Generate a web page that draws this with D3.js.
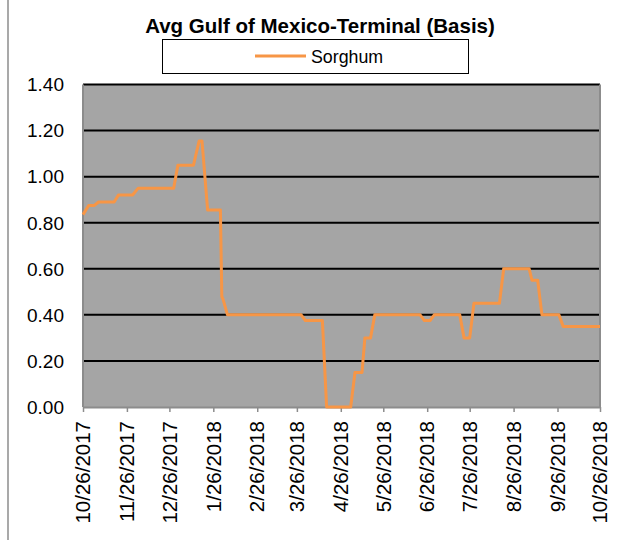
<!DOCTYPE html>
<html>
<head>
<meta charset="utf-8">
<script src="https://cdn.jsdelivr.net/npm/d3@7"></script>
<style>
  html, body { margin: 0; padding: 0; background: #fff; }
  svg { display: block; font-family: "Liberation Sans", Arial, sans-serif; }
</style>
</head>
<body>
<svg id="chart"></svg>
<script>
// sorghum basis, breakpoints
const dates = [
  '2017-10-26', '2017-10-30', '2017-11-03', '2017-11-06', '2017-11-17', '2017-11-20',
  '2017-11-30', '2017-12-04', '2017-12-29', '2018-01-01', '2018-01-12', '2018-01-16',
  '2018-01-18', '2018-01-22', '2018-01-31', '2018-02-01', '2018-02-02', '2018-02-05',
  '2018-03-29', '2018-04-01', '2018-04-13', '2018-04-16', '2018-05-03', '2018-05-06',
  '2018-05-11', '2018-05-13', '2018-05-17', '2018-05-20', '2018-06-21', '2018-06-24',
  '2018-06-28', '2018-07-01', '2018-07-19', '2018-07-22', '2018-07-26', '2018-07-29',
  '2018-08-16', '2018-08-19', '2018-09-06', '2018-09-08', '2018-09-12', '2018-09-15',
  '2018-09-27', '2018-09-30', '2018-10-26'
];
const sorghum = [
  0.835, 0.875, 0.875, 0.89, 0.89, 0.92,
  0.92, 0.95, 0.95, 1.05, 1.05, 1.155,
  1.155, 0.855, 0.855, 0.48, 0.465, 0.40,
  0.40, 0.375, 0.375, 0, 0, 0.15,
  0.15, 0.30, 0.30, 0.40, 0.40, 0.375,
  0.375, 0.40, 0.40, 0.30, 0.30, 0.45,
  0.45, 0.60, 0.60, 0.55, 0.55, 0.40,
  0.40, 0.35, 0.35
];
const yTicks = [0, 0.2, 0.4, 0.6, 0.8, 1.0, 1.2, 1.4];
const xTicks = [
  '2017-10-26', '2017-11-26', '2017-12-26', '2018-01-26', '2018-02-26', '2018-03-26',
  '2018-04-26', '2018-05-26', '2018-06-26', '2018-07-26', '2018-08-26', '2018-09-26',
  '2018-10-26'
];
const title = 'Avg Gulf of Mexico-Terminal (Basis)';
const seriesName = 'Sorghum';

const width = 624;
const height = 540;
const plot = { left: 83, right: 600, top: 84.5, bottom: 407 };
const lineColor = '#F79646';

const parse = d3.timeParse('%Y-%m-%d');
const fmt = d3.timeFormat('%-m/%-d/%Y');

const data = dates.map((d, i) => ({ date: parse(d), value: sorghum[i] }));

const svg = d3.select('#chart')
  .attr('width', width)
  .attr('height', height);

// outer frame, only the left edge shows
svg.append('line')
  .attr('x1', 8).attr('x2', 8)
  .attr('y1', 0).attr('y2', height)
  .attr('stroke', '#8c8c8c')
  .attr('stroke-width', 1.5);

const xScale = d3.scaleTime()
  .domain([parse('2017-10-26'), parse('2018-10-26')])
  .range([plot.left, plot.right]);

const yScale = d3.scaleLinear()
  .domain([0, 1.4])
  .range([plot.bottom, plot.top]);

// plot area
svg.append('rect')
  .attr('x', plot.left)
  .attr('y', plot.top)
  .attr('width', plot.right - plot.left)
  .attr('height', plot.bottom - plot.top)
  .attr('fill', '#a5a5a5');

// gridlines
svg.selectAll('.grid')
  .data(yTicks.filter(v => v > 0))
  .enter()
  .append('line')
  .attr('class', 'grid')
  .attr('x1', plot.left)
  .attr('x2', plot.right)
  .attr('y1', d => yScale(d))
  .attr('y2', d => yScale(d))
  .attr('stroke', '#000')
  .attr('stroke-width', 2);

// left and right borders of plot area
svg.append('line')
  .attr('x1', plot.left).attr('x2', plot.left)
  .attr('y1', plot.top).attr('y2', plot.bottom)
  .attr('stroke', '#8c8c8c').attr('stroke-width', 2);
svg.append('line')
  .attr('x1', plot.right).attr('x2', plot.right)
  .attr('y1', plot.top).attr('y2', plot.bottom)
  .attr('stroke', '#8c8c8c').attr('stroke-width', 2);

// x axis
const xAxis = svg.append('g')
  .attr('transform', `translate(0, ${plot.bottom})`)
  .call(d3.axisBottom(xScale)
    .tickValues(xTicks.map(parse))
    .tickFormat(fmt)
    .tickSize(5)
    .tickSizeOuter(0));

xAxis.select('.domain')
  .attr('stroke', '#8c8c8c')
  .attr('stroke-width', 2);
xAxis.selectAll('.tick line')
  .attr('stroke', '#8c8c8c')
  .attr('stroke-width', 1.5);
xAxis.selectAll('.tick text')
  .attr('font-family', '"Liberation Sans", Arial, sans-serif')
  .attr('font-size', 20.5)
  .attr('fill', '#000')
  .attr('transform', 'rotate(-90)')
  .attr('text-anchor', 'end')
  .attr('x', -14)
  .attr('y', 0)
  .attr('dy', '0.33em');

// y axis labels
svg.selectAll('.ylabel')
  .data(yTicks)
  .enter()
  .append('text')
  .attr('class', 'ylabel')
  .attr('x', 64)
  .attr('y', d => yScale(d))
  .attr('dy', '0.36em')
  .attr('text-anchor', 'end')
  .attr('font-size', 19)
  .attr('fill', '#000')
  .text(d => d.toFixed(2));

// series line
const line = d3.line()
  .x(d => xScale(d.date))
  .y(d => yScale(d.value));

svg.append('path')
  .datum(data)
  .attr('d', line)
  .attr('fill', 'none')
  .attr('stroke', lineColor)
  .attr('stroke-width', 3)
  .attr('stroke-linejoin', 'round');

// title
svg.append('text')
  .attr('x', 320)
  .attr('y', 32.5)
  .attr('text-anchor', 'middle')
  .attr('font-size', 20.5)
  .attr('font-weight', 'bold')
  .attr('fill', '#000')
  .text(title);

// legend
svg.append('rect')
  .attr('x', 162.5)
  .attr('y', 39.5)
  .attr('width', 306)
  .attr('height', 34)
  .attr('fill', '#fff')
  .attr('stroke', '#000')
  .attr('stroke-width', 1);

svg.append('line')
  .attr('x1', 255).attr('x2', 306)
  .attr('y1', 56).attr('y2', 56)
  .attr('stroke', lineColor)
  .attr('stroke-width', 3);

svg.append('text')
  .attr('x', 311)
  .attr('y', 62.5)
  .attr('font-size', 17.8)
  .attr('fill', '#000')
  .text(seriesName);
</script>
</body>
</html>
